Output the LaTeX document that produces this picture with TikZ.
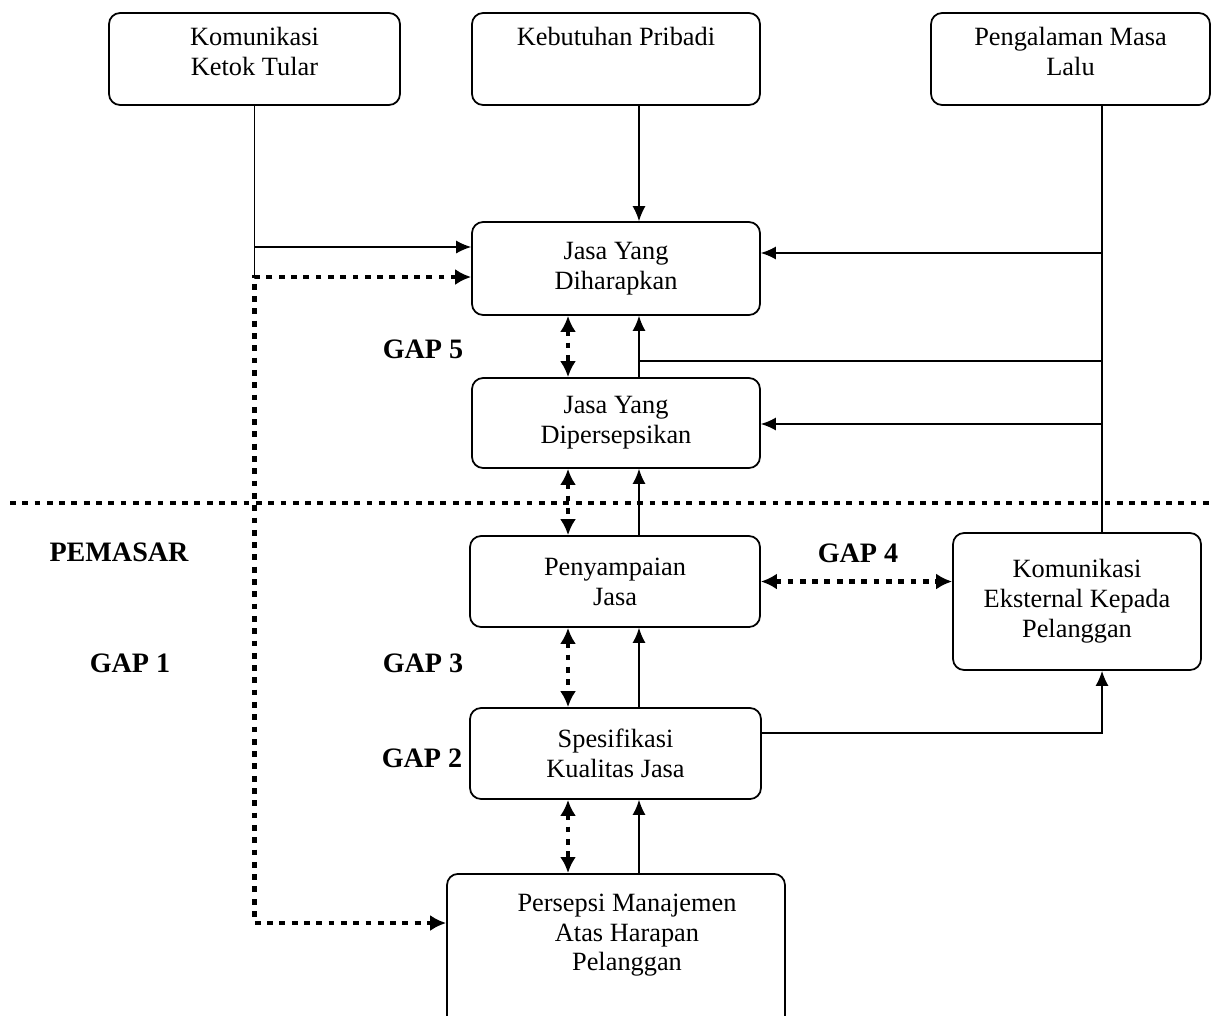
\documentclass[tikz,border=0pt]{standalone}
\usepackage{fontspec}
\setmainfont{Liberation Serif}
\usetikzlibrary{arrows.meta}

\begin{document}
\begin{tikzpicture}[x=0.02cm,y=-0.02cm,line width=0.8pt,
  box/.style={draw,line width=1pt,rounded corners=2.2mm,align=center,inner sep=0pt,font=\fontsize{15}{17}\selectfont},
  gap/.style={font=\fontsize{16}{18}\selectfont\bfseries},
  arr/.style={-{Latex[length=3mm,width=2.6mm]}},
  dots/.style={line width=2.7pt,dash pattern=on 3.3pt off 3.7pt},
  dotarr/.style={dots,{Latex[length=3.2mm,width=3.2mm]}-{Latex[length=3.2mm,width=3.2mm]}}]

\useasboundingbox (0,0) rectangle (1212,1015);
\clip (0,0) rectangle (1212,1015);

% boxes
\node[box,minimum width=5.82cm,minimum height=1.84cm] (kkt) at (254.5,59) {Komunikasi\\Ketok Tular\\[-8pt]\mbox{}};
\node[box,minimum width=5.76cm,minimum height=1.84cm] (kp) at (616,59) {Kebutuhan Pribadi\\\mbox{}\\[-8pt]\mbox{}};
\node[box,minimum width=5.58cm,minimum height=1.84cm] (pml) at (1070.5,59) {Pengalaman Masa\\Lalu\\[-8pt]\mbox{}};
\node[box,minimum width=5.76cm,minimum height=1.86cm] (jd) at (616,268.5) {Jasa Yang\\Diharapkan};
\node[box,minimum width=5.76cm,minimum height=1.80cm] (jp) at (616,423) {Jasa Yang\\Dipersepsikan};
\node[box,minimum width=5.80cm,minimum height=1.82cm] (pen) at (615,581.5) {Penyampaian\\Jasa};
\node[box,minimum width=4.96cm,minimum height=2.74cm] (kom) at (1077,601.5) {Komunikasi\\Eksternal Kepada\\Pelanggan};
\node[box,minimum width=5.82cm,minimum height=1.82cm] (spes) at (615.5,753.5) {Spesifikasi\\Kualitas Jasa};
\node[box,minimum width=6.76cm,minimum height=3.6cm,anchor=north] (pers) at (616,873) {};
\node[font=\fontsize{15}{17}\selectfont,align=center,anchor=north,inner sep=0pt] (perst) at (627,893) {Persepsi Manajemen\\Atas Harapan\\Pelanggan};

% gap labels
\node[gap] (g5) at (423,349) {GAP 5};
\node[gap] (g4) at (858,553) {GAP 4};
\node[gap] (g3) at (423,663) {GAP 3};
\node[gap] (g2) at (422,758) {GAP 2};
\node[gap] (g1) at (130,663) {GAP 1};
\node[gap] (pm) at (119,552) {PEMASAR};

\coordinate (c1) at (639,0);
\coordinate (c2) at (568,0);
\coordinate (c3) at (1102,0);
\coordinate (ka) at (254.5,247);
\coordinate (kb) at (254.5,277);
\coordinate (kc) at (254.5,923);
\coordinate (ra) at (1102,253);
\coordinate (rb) at (1102,361);
\coordinate (rc) at (1102,424);
\coordinate (rd) at (1102,733);
\coordinate (sl) at (10,503);
\coordinate (sr) at (1212,503);

% solid
\draw (kkt.south) -- (kb);
\draw[arr] (ka) -- (ka -| jd.west);
\draw[arr] (kp.south -| c1) -- (jd.north -| c1);
\draw (pml.south -| c3) -- (kom.north -| c3);
\draw[arr] (ra) -- (ra -| jd.east);
\draw[arr] (rc) -- (rc -| jp.east);
\draw (rb) -- (rb -| c1);
\draw[arr] (jp.north -| c1) -- (jd.south -| c1);
\draw[arr] (pen.north -| c1) -- (jp.south -| c1);
\draw[arr] (spes.north -| c1) -- (pen.south -| c1);
\draw[arr] (pers.north -| c1) -- (spes.south -| c1);
\draw[arr] (rd -| spes.east) -- (rd) -- (kom.south -| rd);

% dotted
\draw[dotarr] (kb -| jd.west) -- (kb) -- (kc) -- (kc -| pers.west);
\draw[dotarr] (jd.south -| c2) -- (jp.north -| c2); %5
\draw[dotarr] (jp.south -| c2) -- (pen.north -| c2);
\draw[dotarr] (pen.south -| c2) -- (spes.north -| c2); %3
\draw[dotarr] (spes.south -| c2) -- (pers.north -| c2); %2
\draw[dotarr] (pen.east) -- (pen.east -| kom.west); %4
\draw[dots] (sl) -- (sr);

\end{tikzpicture}
\end{document}
